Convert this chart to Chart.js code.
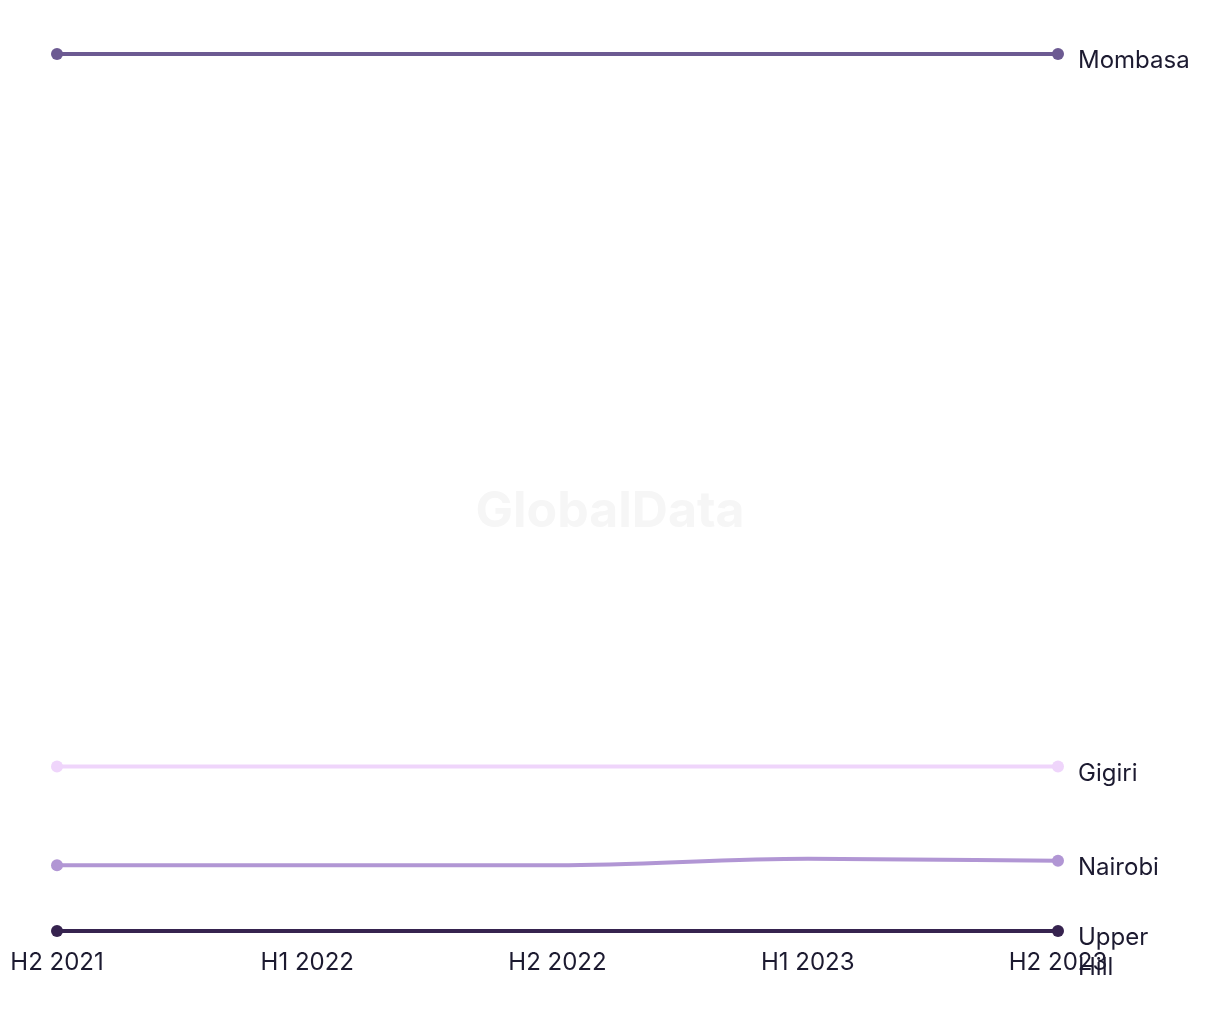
<!DOCTYPE html>
<html>
<head>
<meta charset="utf-8">
<script src="https://cdn.jsdelivr.net/npm/chart.js@4"></script>
<style>
  html, body { margin: 0; padding: 0; background: #ffffff; }
  #wrap { width: 1220px; height: 1020px; position: relative; }
</style>
</head>
<body>
<div id="wrap"><canvas id="c" width="1220" height="1020"></canvas></div>
<script>
const categories = ['H2 2021', 'H1 2022', 'H2 2022', 'H1 2023', 'H2 2023'];
const seriesNames = ['Mombasa', 'Gigiri', 'Nairobi', 'Upper Hill'];
const endLabels = [['Mombasa'], ['Gigiri'], ['Nairobi'], ['Upper', 'Hill']];
const mombasa = [11.0, 11.0, 11.0, 11.0, 11.0];
const gigiri = [7.75, 7.75, 7.75, 7.75, 7.75];
const nairobi = [7.30, 7.30, 7.30, 7.33, 7.32];
const upperHill = [7.0, 7.0, 7.0, 7.0, 7.0];
const seriesValues = [mombasa, gigiri, nairobi, upperHill];
const seriesColors = ['#6c5a92', '#efd5fb', '#b196d4', '#36234f'];

const allVals = seriesValues.flat();
const yMin = Math.min(...allVals);
const yMax = Math.max(...allVals);

const watermark = {
  id: 'watermark',
  beforeDraw(chart) {
    const {ctx} = chart;
    ctx.save();
    ctx.font = 'bold 50px Inter, "Liberation Sans", sans-serif';
    ctx.fillStyle = '#f6f6f6';
    ctx.textAlign = 'center';
    ctx.textBaseline = 'middle';
    ctx.fillText('GlobalData', 610, 512);
    ctx.restore();
  }
};

const endLabelPlugin = {
  id: 'endLabels',
  afterDatasetsDraw(chart) {
    const {ctx} = chart;
    ctx.save();
    ctx.font = '24px Inter, "Liberation Sans", sans-serif';
    ctx.fillStyle = '#1c1a30';
    ctx.textAlign = 'left';
    ctx.textBaseline = 'middle';
    chart.data.datasets.forEach((ds, i) => {
      const meta = chart.getDatasetMeta(i);
      const pt = meta.data[meta.data.length - 1];
      const lines = endLabels[i];
      lines.forEach((line, j) => {
        ctx.fillText(line, pt.x + 20, pt.y + 7 + j * 30);
      });
    });
    ctx.restore();
  }
};

new Chart(document.getElementById('c'), {
  type: 'line',
  data: {
    labels: categories,
    datasets: seriesNames.map((name, i) => ({
      label: name,
      data: seriesValues[i],
      borderColor: seriesColors[i],
      backgroundColor: seriesColors[i],
      pointBackgroundColor: seriesColors[i],
      borderWidth: 4,
      cubicInterpolationMode: 'monotone',
      pointRadius: (c) => (c.dataIndex === 0 || c.dataIndex === categories.length - 1) ? 6 : 0,
      pointHoverRadius: 0,
      pointBorderWidth: 0,
      clip: false
    }))
  },
  options: {
    responsive: false,
    animation: false,
    events: [],
    layout: { padding: { left: 57, right: 162, top: 54, bottom: 0 } },
    plugins: {
      legend: { display: false },
      tooltip: { enabled: false }
    },
    scales: {
      x: {
        grid: { display: false, drawTicks: false },
        border: { display: false },
        ticks: {
          color: '#1c1a30',
          font: { family: 'Inter, "Liberation Sans", sans-serif', size: 24 },
          padding: 17,
          maxRotation: 0,
          autoSkip: false
        },
        afterFit(scale) {
          scale.height = 89;
          scale.paddingLeft = 0;
          scale.paddingRight = 0;
        }
      },
      y: {
        display: false,
        min: yMin,
        max: yMax
      }
    }
  },
  plugins: [watermark, endLabelPlugin]
});
</script>
</body>
</html>
